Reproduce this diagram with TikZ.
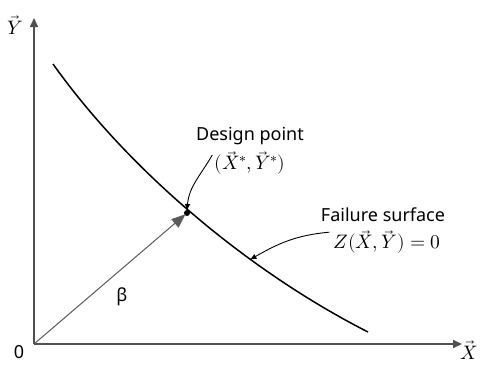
\documentclass[tikz,border=0pt]{standalone}
\usepackage{fontspec}
\setmainfont{Noto Sans}
\usepackage{unicode-math}
\setmathfont{Latin Modern Math}
\usetikzlibrary{arrows.meta,positioning}
\definecolor{axisg}{RGB}{80,80,80}
\definecolor{leadg}{RGB}{90,90,90}
\tikzset{
  axis/.style={line width=1.6pt, axisg, -{Triangle[length=9pt,width=8pt]}},
  surf/.style={line width=1.5pt, black},
  vecb/.style={line width=1pt, leadg, -{Triangle[length=14pt,width=11pt]}, shorten >=2pt},
  lead/.style={line width=0.9pt, leadg, -{Triangle[length=6pt,width=5pt]}, black},
  lbl/.style={font=\fontsize{18}{21}\selectfont, inner sep=0pt, align=center},
  mlbl/.style={font=\fontsize{19.5}{23}\selectfont, inner sep=0pt},
}
\begin{document}
\begin{tikzpicture}[x=1pt,y=-1pt]
  \useasboundingbox (0,0) rectangle (481,364);
  % axes
  \coordinate (o) at (34,344);
  \coordinate (yt) at (34,18);
  \coordinate (xr) at (462,344);
  \draw[axis] (o) -- (yt);
  \draw[axis] (o) -- (xr);
  \node[mlbl] (ylab) at (15,25) {$\vec{Y}$};
  \node[mlbl] (xlab) at (469,350) {$\vec{X}$};
  \node[lbl] (zero) at (19,352) {0};
  % failure surface
  \draw[surf] (53,64) .. controls (130,172) and (250,272) .. (368,332)
    coordinate[pos=0.665] (fs);
  \coordinate (dp) at (187,213);
  \fill (dp) circle (3pt);
  % reliability index
  \draw[vecb] (o) -- (dp);
  \node[lbl] (beta) at (122,297) {β};
  % labels
  \node[lbl] (dptxt) at (250,136) {Design point};
  \node[mlbl] (dpxy) at (250,163) {$(\vec{X}^{*},\vec{Y}^{*})$};
  \node[lbl] (fstxt) at (383,215) {Failure surface};
  \node[mlbl] (fseq) at (387,242) {$Z(\vec{X},\vec{Y})=0$};
  \draw[lead] (dpxy.west) ++(-2,-8) to[out=240,in=85] ([yshift=3pt]dp);
  \draw[lead] ([xshift=-4pt,yshift=-2pt]fseq.north west) to[out=185,in=30] (fs);
\end{tikzpicture}
\end{document}
